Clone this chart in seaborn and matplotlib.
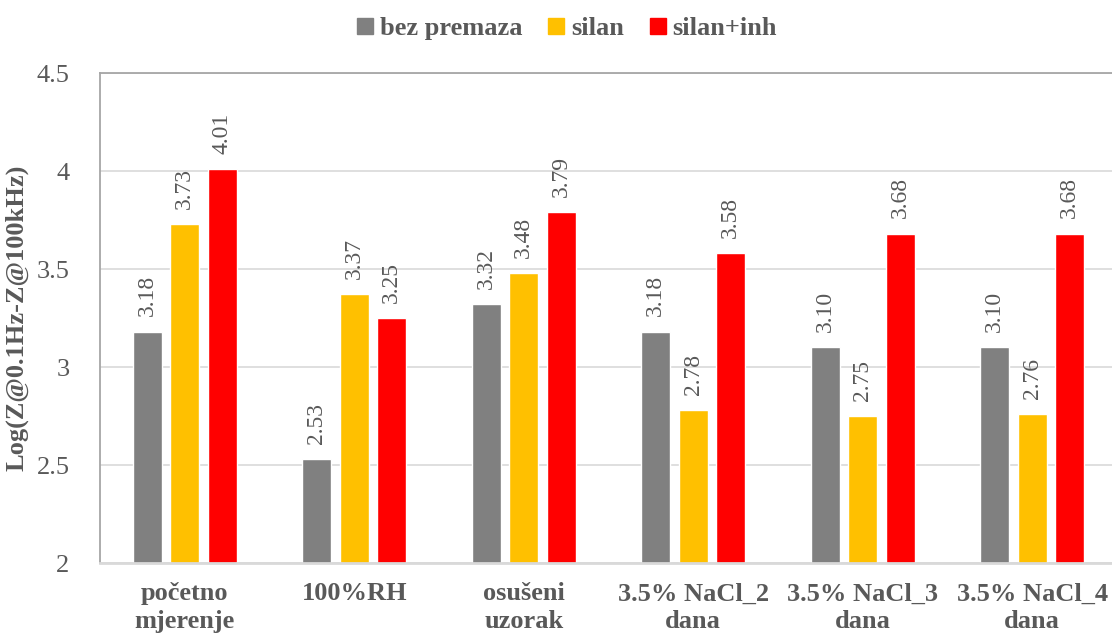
import matplotlib
matplotlib.use("Agg")
import matplotlib.pyplot as plt
import seaborn as sns
import pandas as pd

categories = ["početno\nmjerenje", "100%RH", "osušeni\nuzorak",
              "3.5% NaCl_2\ndana", "3.5% NaCl_3\ndana", "3.5% NaCl_4\ndana"]
series = ["bez premaza", "silan", "silan+inh"]
bez_premaza = [3.18, 2.53, 3.32, 3.18, 3.10, 3.10]
silan = [3.73, 3.37, 3.48, 2.78, 2.75, 2.76]
silan_inh = [4.01, 3.25, 3.79, 3.58, 3.68, 3.68]
y_ticks = [2, 2.5, 3, 3.5, 4, 4.5]
y_tick_labels = ["2", "2.5", "3", "3.5", "4", "4.5"]
colors = ["#808080", "#FFC000", "#FF0000"]

rows = []
for name, vals in zip(series, [bez_premaza, silan, silan_inh]):
    for cat, v in zip(categories, vals):
        rows.append({"kategorija": cat, "serija": name, "vrijednost": v})
df = pd.DataFrame(rows)

sns.set_style("white")
plt.rcParams["font.family"] = ["Liberation Serif", "DejaVu Serif"]
text_color = "#595959"

fig = plt.figure(figsize=(11.12, 6.39), dpi=100)
ax = fig.add_axes([100 / 1112, 1 - 563 / 639, 1017 / 1112, 490 / 639])

sns.barplot(data=df, x="kategorija", y="vrijednost", hue="serija",
            order=categories, hue_order=series, palette=colors,
            width=0.664, gap=0.22, saturation=1, errorbar=None,
            legend=False, ax=ax)

for cont in ax.containers:
    ax.bar_label(cont, fmt="%.2f", rotation=90, padding=11,
                 fontsize=17, color=text_color)

ax.set_ylim(2, 4.5)
ax.set_xlim(-0.5, len(categories) - 0.5)
ax.set_yticks(y_ticks)
ax.set_yticklabels(y_tick_labels)
ax.yaxis.grid(True, color="#D9D9D9", linewidth=1.2)
ax.set_axisbelow(True)
ax.tick_params(axis="y", length=0, pad=22, labelsize=19, labelcolor=text_color)
ax.tick_params(axis="x", length=0, pad=14, labelsize=19, labelcolor=text_color)
for lbl in ax.get_xticklabels():
    lbl.set_fontweight("bold")
    lbl.set_linespacing(1.25)

ax.set_xlabel("")
ax.set_ylabel("Log(Z@0.1Hz-Z@100kHz)", fontsize=19, fontweight="bold",
              color=text_color, labelpad=6)

for side in ["left", "top"]:
    ax.spines[side].set_color("#A6A6A6")
    ax.spines[side].set_linewidth(1.3)
ax.spines["right"].set_visible(False)
ax.spines["bottom"].set_color("#D9D9D9")
ax.spines["bottom"].set_linewidth(2)

handles = [plt.Rectangle((0, 0), 1, 1, color=c) for c in colors]
fig.legend(handles, series, loc="upper center", bbox_to_anchor=(0.51, 1.01),
           ncol=3, frameon=False, handlelength=0.6, handleheight=0.6,
           handletextpad=0.25, columnspacing=1.0,
           prop={"family": "Liberation Serif", "weight": "bold", "size": 19},
           labelcolor=text_color)

fig.savefig("out.png", dpi=100)
